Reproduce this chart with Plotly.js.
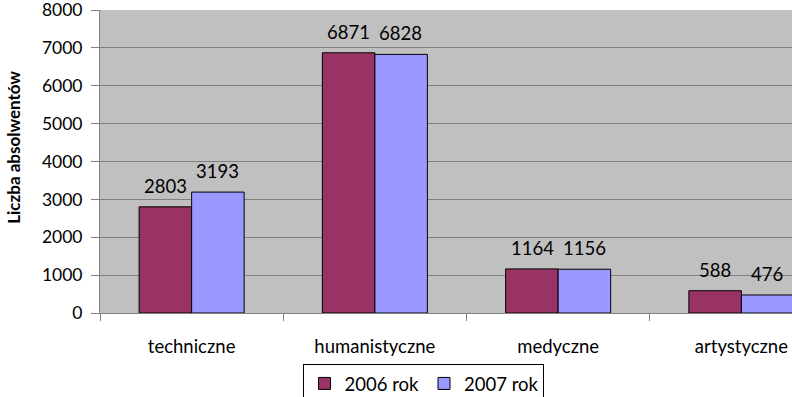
<!DOCTYPE html>
<html>
<head>
<meta charset="utf-8">
<script src="https://cdn.plot.ly/plotly-3.0.1.min.js"></script>
<style>html,body{margin:0;padding:0;overflow:hidden;width:792px;height:397px;background:#fff}</style>
</head>
<body>
<div id="chart"></div>
<script>
const categories = ["techniczne", "humanistyczne", "medyczne", "artystyczne"];
const values2006 = [2803, 6871, 1164, 588];
const values2007 = [3193, 6828, 1156, 476];
const seriesNames = ["2006 rok", "2007 rok"];
const yTicks = [0, 1000, 2000, 3000, 4000, 5000, 6000, 7000, 8000];
const yTitle = "Liczba absolwentów";

const font = "Lato, 'Open Sans', sans-serif";
const fs = 18.5;
const mk = (name, vals, color) => ({
  type: "bar", name: name, x: categories, y: vals,
  marker: {color: color, line: {color: "#000", width: 1}},
  hoverinfo: "x+y"
});
const data = [mk(seriesNames[0], values2006, "#993366"), mk(seriesNames[1], values2007, "#9999FF")];

const annotations = [];
categories.forEach((c, i) => {
  annotations.push({x: c, y: values2006[i], xref: "x", yref: "y", text: String(values2006[i]), showarrow: false,
    xshift: -26, yshift: 21, font: {family: font, size: fs, color: "#000"}});
  annotations.push({x: c, y: values2007[i], xref: "x", yref: "y", text: String(values2007[i]), showarrow: false,
    xshift: 26, yshift: 21, font: {family: font, size: fs, color: "#000"}});
});
annotations.push({text: "<b>" + yTitle + "</b>", textangle: -90, showarrow: false,
  xref: "paper", yref: "paper", x: 0, xshift: -86, y: 0.545, xanchor: "center", yanchor: "middle",
  font: {family: font, size: 17, color: "#000"}});

const layout = {
  width: 840, height: 397,
  margin: {l: 100, r: 7, t: 10, b: 84, autoexpand: false},
  paper_bgcolor: "#fff", plot_bgcolor: "#C0C0C0",
  bargap: 0.427, bargroupgap: 0,
  font: {family: font, size: fs, color: "#000"},
  showlegend: true,
  legend: {orientation: "h", x: 0.442, xanchor: "center", y: -0.168, yanchor: "top",
    bordercolor: "#000", borderwidth: 1, bgcolor: "#fff",
    font: {family: font, size: fs}, traceorder: "normal"},
  annotations: annotations,
  xaxis: {showgrid: false, ticks: "outside", tickson: "boundaries", ticklen: 7,
    tickcolor: "#808080", showline: true, linecolor: "#808080",
    ticklabelstandoff: 17, tickfont: {family: font, size: fs}},
  yaxis: {range: [0, 8001], tickvals: yTicks, ticktext: yTicks.map(String),
    showgrid: true, gridcolor: "#808080", ticks: "outside", ticklen: 8, tickcolor: "#808080",
    showline: true, linecolor: "#808080", zeroline: false, ticklabeloverflow: "allow",
    ticklabelstandoff: 5, tickfont: {family: font, size: 17.5}}
};
Plotly.newPlot("chart", data, layout, {displayModeBar: false, staticPlot: true});
</script>
</body>
</html>
